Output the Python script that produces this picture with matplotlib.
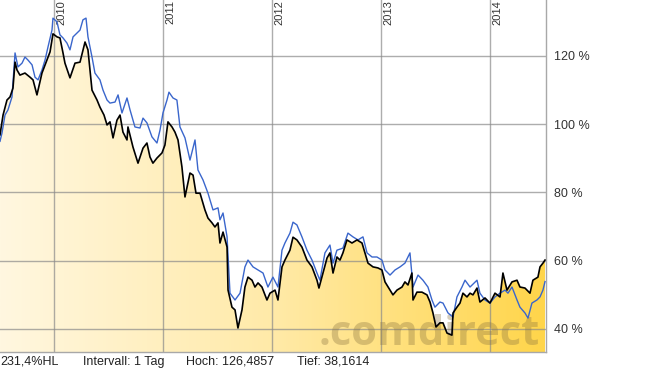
import numpy as np
import matplotlib
matplotlib.use("Agg")
import matplotlib.pyplot as plt
import matplotlib.transforms as mtransforms

plt.rcParams['font.family'] = ['Liberation Sans', 'DejaVu Sans']

# black line: the stock (percent, decimal years)
dates_a = [2009.505, 2009.533, 2009.569, 2009.597, 2009.624, 2009.643, 2009.661, 2009.688, 2009.734, 2009.780,
           2009.808, 2009.844, 2009.890, 2009.936, 2009.964, 2009.991, 2010.028, 2010.055, 2010.083, 2010.101,
           2010.147, 2010.193, 2010.239, 2010.285, 2010.312, 2010.349, 2010.395, 2010.422, 2010.459, 2010.487,
           2010.514, 2010.542, 2010.578, 2010.606, 2010.633, 2010.670, 2010.679, 2010.725, 2010.771, 2010.817,
           2010.853, 2010.881, 2010.908, 2010.945, 2010.991, 2011.018, 2011.046, 2011.083, 2011.110, 2011.138,
           2011.174, 2011.202, 2011.248, 2011.276, 2011.303, 2011.340, 2011.385, 2011.413, 2011.450, 2011.477,
           2011.505, 2011.523, 2011.551, 2011.588, 2011.597, 2011.633, 2011.661, 2011.688, 2011.725, 2011.752,
           2011.780, 2011.817, 2011.844, 2011.872, 2011.908, 2011.954, 2011.982, 2012.028, 2012.055, 2012.092,
           2012.119, 2012.165, 2012.193, 2012.229, 2012.275, 2012.321, 2012.367, 2012.413, 2012.431, 2012.468,
           2012.505, 2012.532, 2012.560, 2012.596, 2012.624, 2012.651, 2012.688, 2012.734, 2012.780, 2012.826,
           2012.853, 2012.881, 2012.927, 2012.972, 2013.009, 2013.037, 2013.083, 2013.110, 2013.147, 2013.193,
           2013.220, 2013.248, 2013.284, 2013.294, 2013.330, 2013.376, 2013.422, 2013.450, 2013.477, 2013.505,
           2013.541, 2013.569, 2013.606, 2013.651, 2013.661, 2013.697, 2013.725, 2013.752, 2013.789, 2013.817,
           2013.844, 2013.881, 2013.908, 2013.954, 2014.000, 2014.046, 2014.092, 2014.119, 2014.156, 2014.202,
           2014.248, 2014.275, 2014.321, 2014.367, 2014.394, 2014.440, 2014.459, 2014.486, 2014.505]
stock = [96.9, 102.7, 107.1, 108.0, 110.6, 118.2, 115.9, 114.4, 115.0, 113.8,
         113.0, 108.6, 115.0, 118.8, 121.2, 126.5, 125.6, 125.3, 120.9, 117.9,
         113.6, 117.9, 118.2, 124.1, 121.8, 110.0, 107.1, 105.0, 102.7, 99.8,
         100.7, 96.0, 101.2, 102.7, 97.7, 95.4, 99.2, 93.3, 88.6, 93.0,
         94.5, 90.4, 88.6, 90.1, 91.6, 93.9, 100.7, 99.2, 97.7, 95.4,
         87.5, 78.7, 85.7, 85.1, 79.8, 79.8, 74.9, 72.5, 71.1, 69.9,
         71.1, 65.2, 68.4, 64.0, 51.4, 46.4, 45.6, 40.3, 45.6, 52.3,
         55.2, 54.3, 52.3, 53.5, 52.3, 48.5, 50.5, 51.4, 48.5, 58.2,
         60.2, 63.1, 66.9, 66.1, 64.0, 60.2, 58.2, 54.3, 52.0, 56.4,
         60.8, 62.3, 56.4, 61.1, 60.2, 62.3, 66.1, 65.2, 66.1, 65.2,
         62.3, 59.3, 58.2, 57.9, 57.3, 53.8, 51.4, 50.0, 51.4, 52.3,
         53.8, 52.9, 56.4, 48.5, 50.8, 50.8, 50.0, 47.9, 44.7, 40.6,
         41.8, 41.8, 38.8, 38.2, 44.7, 46.4, 47.6, 50.5, 49.4, 50.5,
         50.0, 52.0, 47.9, 49.1, 47.6, 50.5, 49.4, 56.4, 51.4, 53.8,
         54.3, 52.3, 52.0, 50.5, 54.3, 55.2, 58.2, 59.3, 60.2]

# blue line: the comparison index
dates_b = [2009.505, 2009.523, 2009.551, 2009.578, 2009.615, 2009.643, 2009.670, 2009.707, 2009.734, 2009.762,
           2009.799, 2009.826, 2009.854, 2009.890, 2009.918, 2009.945, 2009.982, 2009.991, 2010.028, 2010.055,
           2010.083, 2010.119, 2010.147, 2010.175, 2010.211, 2010.239, 2010.266, 2010.294, 2010.312, 2010.349,
           2010.376, 2010.422, 2010.450, 2010.487, 2010.514, 2010.560, 2010.588, 2010.624, 2010.670, 2010.698,
           2010.743, 2010.789, 2010.817, 2010.853, 2010.899, 2010.945, 2010.973, 2011.000, 2011.037, 2011.055,
           2011.092, 2011.128, 2011.156, 2011.202, 2011.248, 2011.294, 2011.321, 2011.367, 2011.413, 2011.459,
           2011.505, 2011.523, 2011.551, 2011.588, 2011.615, 2011.661, 2011.707, 2011.752, 2011.780, 2011.826,
           2011.872, 2011.918, 2011.963, 2012.009, 2012.055, 2012.092, 2012.119, 2012.165, 2012.193, 2012.229,
           2012.275, 2012.321, 2012.367, 2012.413, 2012.440, 2012.486, 2012.532, 2012.560, 2012.596, 2012.651,
           2012.697, 2012.743, 2012.789, 2012.835, 2012.872, 2012.918, 2012.963, 2013.009, 2013.037, 2013.083,
           2013.129, 2013.175, 2013.220, 2013.266, 2013.294, 2013.340, 2013.385, 2013.431, 2013.468, 2013.495,
           2013.541, 2013.569, 2013.615, 2013.661, 2013.697, 2013.743, 2013.771, 2013.817, 2013.881, 2013.908,
           2013.954, 2014.000, 2014.046, 2014.092, 2014.138, 2014.165, 2014.202, 2014.248, 2014.275, 2014.321,
           2014.349, 2014.385, 2014.431, 2014.459, 2014.486, 2014.505]
index = [95.0, 97.4, 102.7, 104.2, 108.0, 120.9, 116.8, 117.9, 119.7, 118.8,
         117.4, 113.8, 113.0, 115.9, 118.8, 122.6, 127.6, 131.1, 130.0, 126.2,
         125.3, 123.8, 121.8, 125.6, 126.7, 127.6, 130.6, 131.1, 125.6, 119.7,
         115.0, 113.0, 110.0, 107.1, 106.2, 106.5, 108.6, 103.3, 107.7, 104.2,
         99.2, 98.9, 101.8, 100.4, 96.3, 94.5, 98.3, 103.3, 107.1, 109.4,
         107.7, 107.1, 99.2, 96.0, 89.5, 95.4, 86.6, 83.7, 79.8, 74.9,
         75.5, 72.0, 74.0, 67.0, 50.5, 48.5, 50.5, 58.2, 60.2, 58.2,
         57.3, 56.4, 52.3, 55.2, 52.3, 63.1, 65.2, 68.1, 71.3, 70.5,
         67.0, 63.1, 60.2, 56.4, 54.3, 62.3, 64.6, 59.3, 63.1, 63.7,
         68.1, 67.0, 66.1, 67.0, 62.3, 61.1, 61.1, 60.2, 57.3, 55.8,
         57.3, 58.2, 59.3, 62.3, 52.3, 55.8, 54.3, 52.3, 48.5, 46.4,
         47.9, 47.6, 44.7, 43.5, 49.4, 52.3, 54.3, 52.3, 54.3, 50.5,
         48.5, 47.6, 49.4, 50.5, 51.4, 50.5, 52.3, 48.5, 46.4, 44.7,
         43.2, 47.6, 48.5, 49.4, 51.4, 53.9]

years = [2010, 2011, 2012, 2013, 2014]
pct_ticks = [40, 60, 80, 100, 120]
info = [(0, "231,4%HL"), (83, "Intervall: 1 Tag"), (186, "Hoch: 126,4857"), (297, "Tief: 38,1614")]

x0, x1 = 2009.505, 2014.514
y0, y1 = 33.26, 136.41

fig = plt.figure(figsize=(6.45, 3.72), dpi=100)
ax = fig.add_axes([0, 1 - 352 / 372, 546 / 645, 352 / 372])
ax.set_xlim(x0, x1)
ax.set_ylim(y0, y1)

# gradient fill under the black line
fill = ax.fill_between(dates_a, stock, y0, color='none', lw=0)
grad = np.linspace(0, 1, 256).reshape(1, -1)
cmap = matplotlib.colors.LinearSegmentedColormap.from_list(
    'cd', ['#fff7e0', '#ffeaa8', '#ffd54a'])
img = ax.imshow(grad, cmap=cmap, extent=[x0, x1, y0, y1], aspect='auto',
                origin='lower', zorder=1)
path = fill.get_paths()[0]
img.set_clip_path(path, transform=ax.transData)

# grid
for yr in years:
    ax.axvline(yr, color='#8a8a8a', lw=1, alpha=0.7, zorder=2)
for p in pct_ticks:
    ax.axhline(p, color='#8a8a8a', lw=1, alpha=0.7, zorder=2)

# watermark
ax.text(2013.44, 35.4, ".comdirect", fontsize=30, fontweight='bold',
        color='#8a7440', alpha=0.35, ha='center', va='baseline', zorder=3,
        family=['Open Sans', 'DejaVu Sans'], clip_on=True)

ax.plot(dates_b, index, color='#3a66cc', lw=1.0, zorder=4)
ax.plot(dates_a, stock, color='black', lw=1.2, zorder=5)

# year labels at the top
off = mtransforms.offset_copy(ax.transData, fig=fig, x=2, y=0, units='dots')
for yr in years:
    ax.text(yr, y1, str(yr), rotation=90, ha='left', va='top', fontsize=8,
            color='#333333', transform=off)

ax.set_xticks([])
ax.yaxis.tick_right()
ax.set_yticks(pct_ticks)
ax.set_yticklabels([f"{p} %" for p in pct_ticks], fontsize=9, color='#333333')
ax.tick_params(axis='y', length=0, pad=6)

for s in ['top', 'left']:
    ax.spines[s].set_visible(False)
for s in ['right', 'bottom']:
    ax.spines[s].set_color('#a8a8a8')
    ax.spines[s].set_linewidth(1)

for px, txt in info:
    fig.text(px / 645, 1 - 362 / 372, txt, fontsize=9, color='#222222',
             ha='left', va='center')

fig.savefig("out.png", dpi=100)
